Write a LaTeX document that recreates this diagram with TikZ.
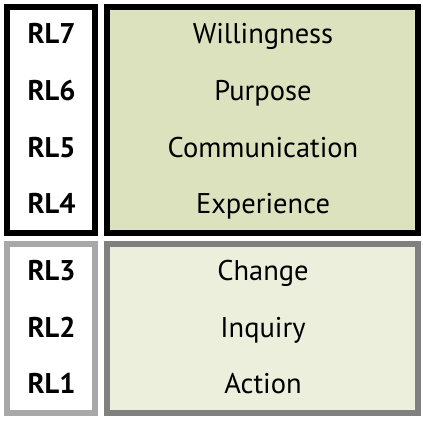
\documentclass[tikz,border=0pt]{standalone}
\usepackage{fontspec}
\setmainfont{PT Sans}
\definecolor{topfill}{HTML}{DBE2BD}
\definecolor{botfill}{HTML}{EBEFDC}
\definecolor{lightgray}{HTML}{A8A8A8}
\definecolor{midgray}{HTML}{808080}
\begin{document}
\begin{tikzpicture}[x=1pt,y=-1pt,
  frame/.style={line width=6pt},
  lab/.style={font=\fontsize{28.5}{32}\selectfont\bfseries, anchor=base, inner sep=0pt},
  word/.style={font=\fontsize{28.5}{32}\selectfont, anchor=base, inner sep=0pt}]
\useasboundingbox (0,0) rectangle (423,421);
\fill[white] (0,0) rectangle (423,421);
% top boxes
\draw[frame, black, fill=white] (7,7) rectangle (94.5,233);
\draw[frame, black, fill=topfill] (107,7) rectangle (417.5,233);
% bottom boxes
\draw[frame, lightgray, fill=white] (7,243.5) rectangle (94.5,413);
\draw[frame, midgray, fill=botfill] (107,243.5) rectangle (417.5,413);
% labels
\node[lab] (rl7) at (51.5,43) {RL7};
\node[lab] (rl6) at (51.5,100) {RL6};
\node[lab] (rl5) at (51.5,157) {RL5};
\node[lab] (rl4) at (51.5,213) {RL4};
\node[lab] (rl3) at (51.5,280) {RL3};
\node[lab] (rl2) at (51.5,337) {RL2};
\node[lab] (rl1) at (51.5,393) {RL1};
\node[word] (w7) at (263,43) {Willingness};
\node[word] (w6) at (263,100) {Purpose};
\node[word] (w5) at (263,157) {Communication};
\node[word] (w4) at (263,213) {Experience};
\node[word] (w3) at (263,280) {Change};
\node[word] (w2) at (263,337) {Inquiry};
\node[word] (w1) at (263,393) {Action};
\end{tikzpicture}
\end{document}
